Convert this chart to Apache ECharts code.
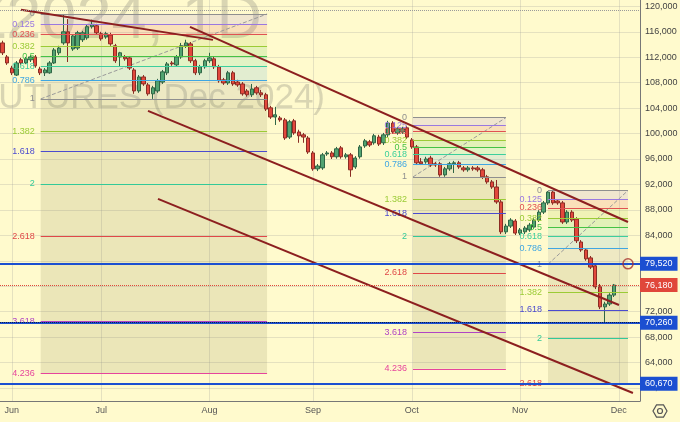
<!DOCTYPE html>
<html>
<head>
<meta charset="utf-8">
<script src="https://cdn.jsdelivr.net/npm/echarts@6/dist/echarts.min.js"></script>
<style>
  html, body { margin: 0; padding: 0; background: #fffacd; }
  #main { width: 680px; height: 422px; }
</style>
</head>
<body>
<div id="main"></div>
<script>
// RIZ2024 daily candles, one row per trading day from 30 May: [open, close, low, high]
const candles = [
  [114250,112700,112350,114600],[112050,111100,110800,112350],[110300,109550,109200,110650],
  [109200,111100,109050,111400],[111600,111100,110800,111900],[111100,111750,110950,112050],
  [111600,112050,111250,112350],[112050,110650,110350,112350],[110150,109550,109200,110500],
  [109550,110000,109050,110300],[109550,111100,109400,111400],[111100,113150,110950,113450],
  [112700,113450,112350,113800],[114250,116000,113950,118800],[116000,114250,111250,118000],
  [113300,115350,113000,115650],[113450,115850,113150,116150],[114750,115850,114400,116150],
  [115050,116800,114750,117100],[116800,117100,116500,117900],[116950,115850,115500,117250],
  [115700,114900,114600,116000],[115200,115700,114900,116000],[115500,114100,113800,115850],
  [113800,111450,111100,114100],[112050,112700,110500,112850],[112050,111750,111450,112350],
  [111900,110300,110000,112200],[110000,106700,106250,110300],[106700,108900,106400,109200],
  [108900,107800,107500,109200],[107650,106250,105950,107950],[106250,107200,105450,107500],
  [106700,108300,106400,108600],[108100,109700,107800,110000],[109550,110950,109200,111250],
  [111100,110950,110650,111400],[110800,112050,110500,112350],[112050,113800,111750,114250],
  [113800,114250,113450,114750],[114100,111450,111100,114400],[111450,109550,109200,111750],
  [109550,110500,109200,110800],[110500,111450,110200,111750],[111450,111900,111100,112700],
  [111750,110500,110150,112050],[110500,108300,108000,110800],[108450,107950,107650,108750],
  [107950,109550,107650,109850],[109550,107800,107500,109850],[108100,107650,107350,108450],
  [107800,106250,105950,108100],[106700,106100,105800,107000],[106100,107000,105750,107800],
  [107200,106400,106100,107500],[106400,106100,105750,106850],[106100,103850,103550,106400],
  [104050,102600,102300,104350],[102600,102950,101350,104200],[102450,102150,101850,102750],
  [102150,99300,99000,102450],[99450,101850,99150,102150],[102000,100100,99800,102300],
  [100250,99650,98550,100600],[99800,99450,98550,100100],[99300,97100,96800,99600],
  [96950,94450,94150,97250],[94450,94900,94100,95200],[94600,96650,94300,96950],
  [96800,96950,96500,97250],[96950,96350,96000,97250],[96350,97600,96050,97900],
  [97750,96350,96050,98050],[96350,96650,96050,96950],[96650,94300,93200,96950],
  [94750,96150,94450,96450],[96350,97900,96050,98200],[98050,98850,97750,99150],
  [98700,98200,97900,99000],[98550,99650,98250,99950],[99450,98350,98050,99800],
  [98550,99800,98200,100100],[99800,101650,99450,102000],[101650,100250,99950,101950],
  [100100,100750,99800,101050],[100250,100750,99950,101050],[100900,99450,99150,101200],
  [99000,97900,97600,99300],[97900,95400,95050,98200],[95550,95250,95050,96150],
  [95550,96000,95250,96350],[96150,95050,94750,96500],[95250,95050,94750,95550],
  [95250,93500,93200,95550],[93500,94450,93200,94750],[94450,95250,94150,95550],
  [95250,95400,93800,95700],[95400,94750,94450,95700],[94600,94300,94000,94900],
  [94300,94600,94000,94900],[94600,94450,94150,94900],[94600,94300,94000,94900],
  [94300,93200,92850,94600],[93200,92400,92100,93500],[92400,91600,91300,92700],
  [91600,89250,88950,92700],[89250,84550,84200,89550],[84550,85450,84200,85800],
  [85450,86400,85150,86700],[86250,84350,84050,86550],[84350,84850,84050,85150],
  [84550,85150,84200,85450],[84850,85600,84550,85950],[85300,86400,85000,86700],
  [86400,87650,86100,87950],[87650,89100,87350,89400],[89100,90800,88800,90950],
  [90800,89100,88800,91050],[89400,89100,88800,89700],[89100,86100,85800,89400],
  [86100,87650,85800,87950],[87650,86400,86100,87950],[86550,83150,82800,86850],
  [82950,81700,81400,83250],[81700,80300,80000,82000],[80450,79000,78700,80750],
  [79200,75900,75550,79500],[75900,72750,72400,76350],[72750,73200,70260,73550],
  [73200,74600,72900,74900],[74600,76180,74300,76350]
];

// exchange calendar bits (Moscow Exchange, 2024)
const holidays = ['2024-06-12', '2024-11-04'];
const workSaturdays = ['2024-11-02'];
const monthNames = ['Jan','Feb','Mar','Apr','May','Jun','Jul','Aug','Sep','Oct','Nov','Dec'];
const slotCount = 136; // trading days incl. blank space on the right

const yTicks = [60000,64000,68000,72000,76000,80000,84000,88000,92000,96000,100000,104000,108000,112000,116000,120000];

// fibonacci drawings: bar index range, price of level 0 and level 1, deepest level shown
const fibLevels = [0, 0.125, 0.236, 0.382, 0.5, 0.618, 0.786, 1, 1.382, 1.618, 2, 2.618, 3.618, 4.236];
const fibColors = ['#8f8f8f','#9a78e0','#e05252','#9bcb36','#45c245','#3ccf9c','#3fa6e2','#8f8f8f',
                   '#9bcb36','#4b4bcf','#33c998','#e04848','#b044c4','#e6449c'];
const fibStart = [8.15, 87.26, 115.95];
const fibEnd = [56.25, 107.0, 132.95];
const fibHigh = [118800, 102500, 91050];
const fibLow = [105450, 93180, 79450];
const fibLast = [4.236, 4.236, 2.618];

// hand-drawn trend lines [barIndex, price]
const trendLines = [
  [[3.96, 119450], [44.76, 114730]],
  [[39.87, 116780], [132.95, 86100]],
  [[30.95, 103560], [131.04, 73050]],
  [[33.07, 89720], [134.0, 59200]]
];

const levelLines = [79520, 70260, 60670];
const lastPrice = 76180;
const highLine = 119340;
const circlePoint = [132.95, 79520];

// build trading day list
const days = [];
const d = new Date(Date.UTC(2024, 4, 30));
while (days.length < slotCount) {
  const s = d.toISOString().slice(0, 10);
  const wd = d.getUTCDay();
  if ((wd !== 0 && wd !== 6 && !holidays.includes(s)) || workSaturdays.includes(s)) days.push(s);
  d.setUTCDate(d.getUTCDate() + 1);
}
const monthStart = days.map((s, i) => i > 0 && s.slice(5, 7) !== days[i - 1].slice(5, 7));
const monthIdx = [];
monthStart.forEach((m, i) => { if (m) monthIdx.push(i); });

function rgba(hex, a) {
  const n = parseInt(hex.slice(1), 16);
  return 'rgba(' + (n >> 16) + ',' + ((n >> 8) & 255) + ',' + (n & 255) + ',' + a + ')';
}

const chart = echarts.init(document.getElementById('main'));

// fib series
const fibSeries = fibStart.map((x0, s) => {
  const x1 = fibEnd[s];
  const hi = fibHigh[s], lo = fibLow[s];
  const lv = fibLevels.filter(l => l <= fibLast[s]);
  const price = l => hi - l * (hi - lo);
  const areas = [];
  for (let k = 0; k < lv.length - 1; k++) {
    const c = lv[k + 1] <= 1 ? rgba(fibColors[k + 1], 0.15) : 'rgba(120,120,70,0.15)';
    areas.push([{ coord: [x0, price(lv[k])], itemStyle: { color: c } }, { coord: [x1, price(lv[k + 1])] }]);
  }
  const lines = lv.map((l, k) => [
    {
      coord: [x0, price(l)],
      lineStyle: { color: fibColors[k], width: 1.2, type: 'solid', opacity: 1 },
      label: { show: true, position: 'start', distance: 6, formatter: String(l), color: fibColors[k], fontSize: 9 }
    },
    { coord: [x1, price(l)] }
  ]);
  return {
    type: 'line', xAxisIndex: 1, yAxisIndex: 0, z: 2,
    data: [[x0, lo], [x1, hi]], symbol: 'none', silent: true,
    lineStyle: { color: '#9a9a9a', width: 1, type: 'dashed' },
    markArea: { silent: true, z: 1, label: { show: false }, data: areas },
    markLine: { silent: true, symbol: 'none', z: 3.5, data: lines }
  };
});

const trendSeries = trendLines.map(t => ({
  type: 'line', xAxisIndex: 1, yAxisIndex: 0, z: 4, data: t, symbol: 'none', silent: true,
  lineStyle: { color: '#8c1f1f', width: 2 }
}));

const axisBox = bg => ({
  show: true, position: 'end', distance: 0,
  formatter: p => Number(p.value).toLocaleString('en-US'),
  color: '#fff', backgroundColor: bg, padding: [3, 5, 2, 5], fontSize: 9
});

const priceLineData = [
  { yAxis: highLine, lineStyle: { color: '#9a9a9a', type: 'dotted', width: 1 }, label: { show: false } },
  { yAxis: lastPrice, lineStyle: { color: '#e0473a', type: 'dotted', width: 1 }, label: axisBox('#e0473a') }
].concat(levelLines.map(v => ({
  yAxis: v, lineStyle: { color: '#1b4fd1', width: 2, type: 'solid' }, label: axisBox('#1b4fd1')
}))).concat([
  { yAxis: 70260, lineStyle: { color: '#0d1d4a', type: 'dotted', width: 1 }, label: { show: false } }
]);

const hex = [];
for (let k = 0; k < 6; k++) {
  const a = Math.PI / 3 * k;
  hex.push([660 + 7 * Math.cos(a), 411 + 7 * Math.sin(a)]);
}

chart.setOption({
  animation: false,
  backgroundColor: '#fffacd',
  textStyle: { fontFamily: '"Liberation Sans", Arial, sans-serif' },
  grid: { left: 0, right: 40, top: 0, bottom: 21, containLabel: false, outerBoundsMode: 'none' },
  graphic: [
    { type: 'text', x: 262, y: 21, z: -1, silent: true,
      style: { text: 'RIZ2024, 1D', textAlign: 'right', textVerticalAlign: 'middle',
               font: '63px "Liberation Sans"', fill: 'rgba(110,110,100,0.26)' } },
    { type: 'text', x: 325, y: 98, z: -1, silent: true,
      style: { text: 'RTS INDEX FUTURES (Dec 2024)', textAlign: 'right', textVerticalAlign: 'middle',
               font: '35px "Liberation Sans"', fill: 'rgba(110,110,100,0.26)' } },
    { type: 'polygon', shape: { points: hex }, style: { fill: 'none', stroke: '#555', lineWidth: 1.2 } },
    { type: 'circle', shape: { cx: 660, cy: 411, r: 2.5 }, style: { fill: 'none', stroke: '#555', lineWidth: 1.2 } }
  ],
  xAxis: [
    {
      type: 'category', data: days, boundaryGap: true,
      axisLine: { onZero: false, lineStyle: { color: '#777' } },
      axisTick: { show: false },
      splitLine: { show: false },
      axisLabel: {
        interval: i => monthStart[i],
        formatter: v => monthNames[+v.slice(5, 7) - 1],
        color: '#555', fontSize: 9, margin: 5
      }
    },
    { type: 'value', min: -0.5, max: slotCount - 0.5, show: false }
  ],
  yAxis: {
    type: 'value', position: 'right', min: 57950, max: 121000,
    axisLine: { show: true, onZero: false, lineStyle: { color: '#777' } },
    axisTick: { show: false },
    splitLine: { show: false },
    axisLabel: {
      customValues: yTicks,
      formatter: v => v.toLocaleString('en-US'),
      color: '#444', fontSize: 9, margin: 5
    }
  },
  series: [
    {
      type: 'line', xAxisIndex: 1, data: [], silent: true,
      markLine: {
        silent: true, symbol: 'none', z: 0, label: { show: false },
        lineStyle: { color: 'rgba(150,150,150,0.25)', width: 1, type: 'solid' },
        data: monthIdx.map(i => ({ xAxis: i })).concat(yTicks.map(v => ({ yAxis: v })))
      }
    },
    ...fibSeries,
    {
      type: 'candlestick', xAxisIndex: 0, z: 3, barWidth: 3.8, data: candles,
      itemStyle: {
        color: '#52a371', color0: '#e2483c',
        borderColor: '#2f6545', borderColor0: '#8a2c24', borderWidth: 1
      }
    },
    ...trendSeries,
    {
      type: 'line', xAxisIndex: 1, data: [], silent: true,
      markLine: { silent: true, symbol: 'none', z: 6, data: priceLineData }
    },
    {
      type: 'scatter', xAxisIndex: 1, z: 7, data: [circlePoint], symbol: 'circle', symbolSize: 10, silent: true,
      itemStyle: { color: 'rgba(0,0,0,0)', borderColor: '#a5302c', borderWidth: 1.5 }
    }
  ]
});
</script>
</body>
</html>
